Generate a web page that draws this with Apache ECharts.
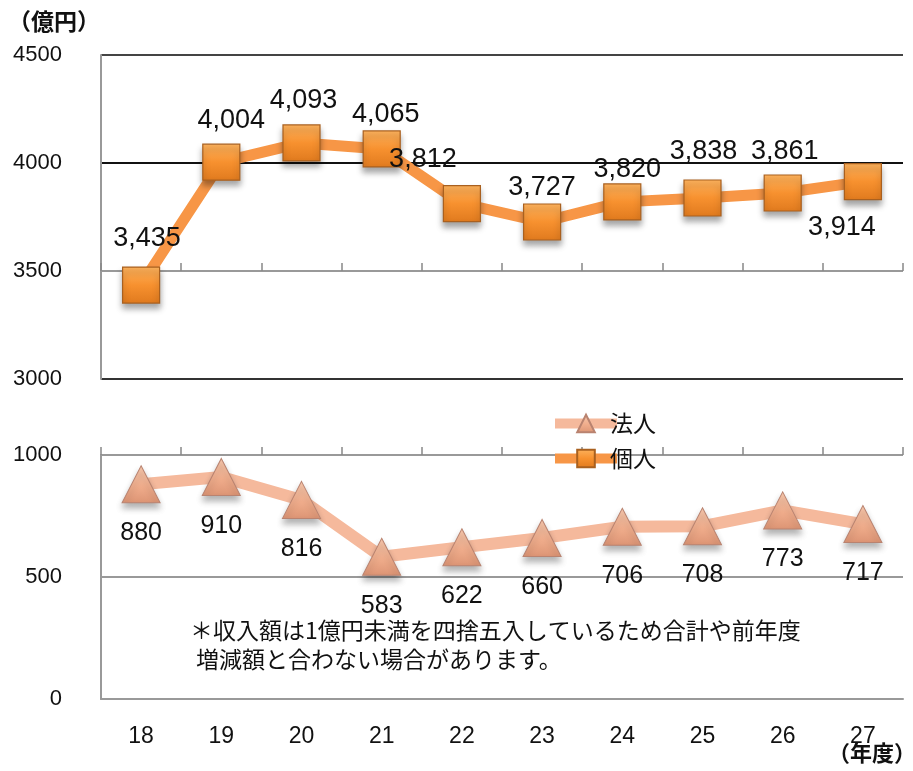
<!DOCTYPE html>
<html>
<head>
<meta charset="utf-8">
<script src="https://cdn.jsdelivr.net/npm/echarts@6/dist/echarts.min.js"></script>
<style>
html,body{margin:0;padding:0;background:#fff;}
#chart{width:913px;height:771px;}
</style>
</head>
<body>
<div id="chart"></div>
<script>
// ---- data ----
var categories = ['18', '19', '20', '21', '22', '23', '24', '25', '26', '27'];
var kojin = [3435, 4004, 4093, 4065, 3812, 3727, 3820, 3838, 3861, 3914];   // 個人
var hojin = [880, 910, 816, 583, 622, 660, 706, 708, 773, 717];             // 法人
var seriesNames = ['法人', '個人'];
var topTicks = [3000, 4500, 500];
var bottomTicks = [0, 1000, 500];

// label offsets (styling only)
var kojinLabelOffsets = [[6,-46],[10,-42],[2,-42],[4,-34],[-39,-44],[0,-34],[5,-32],[1,-46],[2,-41],[-21,46]];
var hojinLabelOffset = [0, 49];

function fmt(v){ return v.toLocaleString('en-US'); }

var chart = echarts.init(document.getElementById('chart'));

var squareStyle = {
  color: new echarts.graphic.LinearGradient(0,0,0,1,[
    {offset:0,color:'#fdb35e'},{offset:0.5,color:'#f7912f'},{offset:1,color:'#e07a1e'}]),
  borderColor:'#a9601f', borderWidth:1.2,
  shadowColor:'rgba(0,0,0,0.35)', shadowBlur:6, shadowOffsetY:5
};
var triStyle = {
  color: new echarts.graphic.LinearGradient(0,0,0,1,[
    {offset:0,color:'#f8c9ae'},{offset:0.55,color:'#f0ad8c'},{offset:1,color:'#dc9474'}]),
  borderColor:'#b98370', borderWidth:1,
  shadowColor:'rgba(0,0,0,0.3)', shadowBlur:6, shadowOffsetY:5
};

var kojinData = kojin.map(function(v,i){
  return {value:v, label:{offset:kojinLabelOffsets[i]}};
});

var option = {
  animation:false,
  backgroundColor:'#fff',
  textStyle:{fontFamily:'Liberation Sans, Arial, sans-serif'},
  grid:[
    {left:101, right:10, top:55, height:324},
    {left:101, right:10, top:455, height:244}
  ],
  xAxis:[
    {gridIndex:0, type:'category', data:categories, boundaryGap:true,
     axisLine:{show:false}, axisLabel:{show:false},
     axisTick:{show:true, inside:true, length:8, lineStyle:{color:'#888', width:1.5}},
     offset:-108},
    {gridIndex:1, type:'category', data:categories, boundaryGap:true, position:'bottom',
     axisLine:{show:true, lineStyle:{color:'#999', width:2}},
     axisTick:{show:false},
     axisLabel:{margin:26, fontSize:23, color:'#111', fontFamily:'Liberation Sans, Arial'}},
    {gridIndex:1, type:'category', data:categories, boundaryGap:true, position:'top',
     axisLine:{show:false}, axisLabel:{show:false},
     axisTick:{show:true, inside:false, length:8, lineStyle:{color:'#888', width:1.5}}}
  ],
  yAxis:[
    {gridIndex:0, type:'value', min:topTicks[0], max:topTicks[1], interval:topTicks[2],
     axisLine:{show:true, lineStyle:{color:'#999', width:2}},
     axisTick:{show:false},
     axisLabel:{margin:39, fontSize:22, color:'#111', formatter:function(v){return String(v);}},
     splitLine:{show:true, lineStyle:{color:['#333','#999','#111','#444'], width:2}}},
    {gridIndex:1, type:'value', min:bottomTicks[0], max:bottomTicks[1], interval:bottomTicks[2],
     axisLine:{show:true, lineStyle:{color:'#999', width:2}},
     axisTick:{show:false},
     axisLabel:{margin:39, fontSize:22, color:'#111', formatter:function(v){return String(v);}},
     splitLine:{show:true, lineStyle:{color:'#999', width:2}}}
  ],
  legend:{
    orient:'vertical', left:545, top:407, itemGap:12, itemWidth:62, itemHeight:22,
    data:seriesNames,
    lineStyle:{width:10},
    textStyle:{fontSize:23, color:'#111', fontFamily:'Noto Sans CJK JP', padding:[0,0,0,-12]}
  },
  series:[
    {name:seriesNames[0], type:'line', xAxisIndex:1, yAxisIndex:1, data:hojin,
     symbol:'triangle', symbolSize:[38,37],
     lineStyle:{color:'#f5b99c', width:12},
     itemStyle:triStyle,
     label:{show:true, position:'inside', offset:hojinLabelOffset, fontSize:25, color:'#111',
            formatter:function(p){return fmt(p.value);}},
     z:3},
    {name:seriesNames[1], type:'line', xAxisIndex:0, yAxisIndex:0, data:kojinData,
     symbol:'rect', symbolSize:[37,36],
     lineStyle:{color:'#f79646', width:11},
     itemStyle:squareStyle,
     label:{show:true, position:'inside', fontSize:27, color:'#111',
            formatter:function(p){return fmt(p.value);}},
     z:3}
  ],
  graphic:[
    {type:'text', left:8, top:10, style:{text:'（億円）', fontSize:23, fontWeight:'bold', fill:'#111', fontFamily:'Noto Sans CJK JP'}},
    {type:'text', left:828, top:742, style:{text:'（年度）', fontSize:22, fontWeight:'bold', fill:'#111', fontFamily:'Noto Sans CJK JP'}},
    {type:'text', left:190, top:619, style:{text:'＊収入額は1億円未満を四捨五入しているため合計や前年度', fontSize:23, fill:'#111', fontFamily:'Noto Sans CJK JP'}},
    {type:'text', left:196, top:648, style:{text:'増減額と合わない場合があります。', fontSize:23, fill:'#111', fontFamily:'Noto Sans CJK JP'}}
  ]
};
chart.setOption(option);
</script>
</body>
</html>
